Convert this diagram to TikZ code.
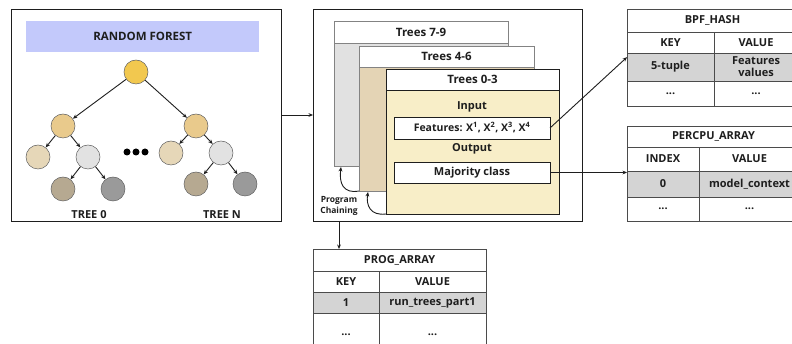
\documentclass[tikz,border=0pt]{standalone}
\usepackage{fontspec}
\setmainfont{Open Sans}
\usetikzlibrary{arrows.meta,calc}
\definecolor{ink}{HTML}{1E1E1E}
\definecolor{banner}{HTML}{C3C9FB}
\definecolor{croot}{HTML}{F2C84F}
\definecolor{cmid}{HTML}{E9CA8C}
\definecolor{cbeige}{HTML}{E6D7B8}
\definecolor{clgray}{HTML}{E2E2E2}
\definecolor{ctaupe}{HTML}{B6A991}
\definecolor{cgray}{HTML}{9A9A9A}
\definecolor{bgray}{HTML}{E1E1E1}
\definecolor{btan}{HTML}{E4D4B5}
\definecolor{bcream}{HTML}{F8EEC8}
\definecolor{shade}{HTML}{D4D4D4}
\newcommand\bx[7]{\node[#6,anchor=north west,minimum width={#4-#2},minimum height={#5-#3}] (#1) at (#2,#3) {#7};}
\begin{document}
\begin{tikzpicture}[x=1pt,y=-1pt,
  font=\bfseries\fontsize{11}{12}\selectfont, text=ink,
  big/.style={font=\bfseries\fontsize{11.5}{13}\selectfont},
  frame/.style={draw=ink,line width=0.8pt,inner sep=0pt,outer sep=0pt},
  cellbox/.style={draw=ink!80,line width=0.7pt,fill=white,inner sep=0pt,outer sep=0pt,align=center},
  shaded/.style={cellbox,fill=shade},
  layer/.style={draw=ink!55,line width=0.6pt,inner sep=0pt,outer sep=0pt},
  tnode/.style={circle,draw=ink!70,line width=0.5pt,minimum size=24pt,inner sep=0pt},
  arr/.style={draw=ink,line width=0.9pt,-{Stealth[length=4.5pt,width=3.8pt]}},
  dot/.style={circle,fill=black,minimum size=7pt,inner sep=0pt}]
\clip (0,0) rectangle (792,344);
\fill[white] (0,0) rectangle (792,344);
% ---------- left box: random forest
\bx{lb}{11}{9}{281}{221}{frame}{}
\bx{banner}{26}{21}{259}{52}{fill=banner,inner sep=0pt,big}{RANDOM FOREST}
\node[tnode,fill=croot] (root) at (136,72) {};
\node[tnode,fill=cmid] (l2a) at (63,126) {};
\node[tnode,fill=cmid] (l2b) at (196,126) {};
\node[tnode,fill=cbeige] (l3a) at (38,157) {};
\node[tnode,fill=clgray] (l3b) at (88,157) {};
\node[tnode,fill=cbeige] (l3c) at (171,153) {};
\node[tnode,fill=clgray] (l3d) at (221,153) {};
\node[tnode,fill=ctaupe] (l4a) at (63,189) {};
\node[tnode,fill=cgray] (l4b) at (113,189) {};
\node[tnode,fill=ctaupe] (l4c) at (196,184) {};
\node[tnode,fill=cgray] (l4d) at (245,184) {};
\draw[arr] (root) -- (l2a);
\draw[arr] (root) -- (l2b);
\draw[arr] (l2a) -- (l3a);
\draw[arr] (l2a) -- (l3b);
\draw[arr] (l2b) -- (l3c);
\draw[arr] (l2b) -- (l3d);
\draw[arr] (l3b) -- (l4a);
\draw[arr] (l3b) -- (l4b);
\draw[arr] (l3d) -- (l4c);
\draw[arr] (l3d) -- (l4d);
\node[dot] (d1) at (127,152) {};
\node[dot] (d2) at (136,152) {};
\node[dot] (d3) at (145,152) {};
\node (t0) at (89,215) {TREE 0};
\node (tn) at (222,215) {TREE N};
% ---------- middle box
\bx{mb}{313}{9}{582}{221}{frame}{}
\draw[arr] (lb.east) -- (mb.west);
\bx{t79b}{334}{43}{508}{166}{layer,fill=bgray}{}
\bx{t79h}{334}{21}{508}{43}{layer,fill=white,big}{Trees 7-9}
\bx{t46b}{359}{67}{534}{191}{layer,fill=btan}{}
\bx{t46h}{359}{46}{534}{67}{layer,fill=white,big}{Trees 4-6}
\bx{t03b}{386}{90}{559}{214}{frame,fill=bcream}{}
\bx{t03h}{386}{69}{559}{90}{frame,fill=white,big}{Trees 0-3}
\node (inp) at (472,107) {Input};
\bx{feat}{394}{117}{550}{139}{frame,fill=white,font=\bfseries\fontsize{10.5}{12}\selectfont}{Features: X\textsuperscript{1}, X\textsuperscript{2}, X\textsuperscript{3}, X\textsuperscript{4}}
\node (outp) at (472,149) {Output};
\bx{maj}{394}{162}{550}{183}{frame,fill=white}{Majority class}
\coordinate (c79) at (341,167);
\coordinate (c46) at (368,192);
\draw[arr] (t46b.south west) .. controls (343,194) and (339,183) .. (c79);
\draw[arr] (t03b.south west) .. controls (370,216) and (366,205) .. (c46);
\node[align=center,font=\bfseries\fontsize{8.5}{11.5}\selectfont] (pch) at (339,206) {Program\\Chaining};
% ---------- PROG_ARRAY
\bx{ph}{313}{249}{486}{271}{cellbox}{PROG\_ARRAY}
\bx{pk}{313}{271}{379}{292}{cellbox}{KEY}
\bx{pv}{379}{271}{486}{292}{cellbox}{VALUE}
\bx{p1}{313}{292}{379}{313}{shaded}{1}
\bx{p1v}{379}{292}{486}{313}{shaded}{run\_trees\_part1}
\bx{pd}{313}{313}{379}{356}{cellbox}{...}
\bx{pdv}{379}{313}{486}{356}{cellbox}{...}
\draw[arr] (mb.south -| pch) -- (pch |- ph.north);
% ---------- BPF_HASH
\bx{bh}{627}{9}{798}{32}{cellbox}{BPF\_HASH}
\bx{bk}{627}{32}{714}{53}{cellbox}{KEY}
\bx{bv}{714}{32}{798}{53}{cellbox}{VALUE}
\bx{b1}{627}{53}{714}{81}{shaded}{5-tuple}
\bx{b1v}{714}{53}{798}{81}{shaded}{Features\\values}
\bx{bd}{627}{81}{714}{106}{cellbox}{...}
\bx{bdv}{714}{81}{798}{106}{cellbox}{...}
\coordinate (bin) at ($(b1.north west)!0.15!(b1.south west)$);
\draw[arr] (feat.east) -- (bin);
% ---------- PERCPU_ARRAY
\bx{ch}{627}{126}{800}{147}{cellbox}{PERCPU\_ARRAY}
\bx{ck}{627}{147}{699}{171}{cellbox}{INDEX}
\bx{cv}{699}{147}{800}{171}{cellbox}{VALUE}
\bx{c1}{627}{171}{699}{197}{shaded}{0}
\bx{c1v}{699}{171}{800}{197}{shaded}{model\_context}
\bx{cd}{627}{197}{699}{221}{cellbox}{...}
\bx{cdv}{699}{197}{800}{221}{cellbox}{...}
\draw[arr] (maj.east) -- (maj.east -| c1.west);
\end{tikzpicture}
\end{document}
